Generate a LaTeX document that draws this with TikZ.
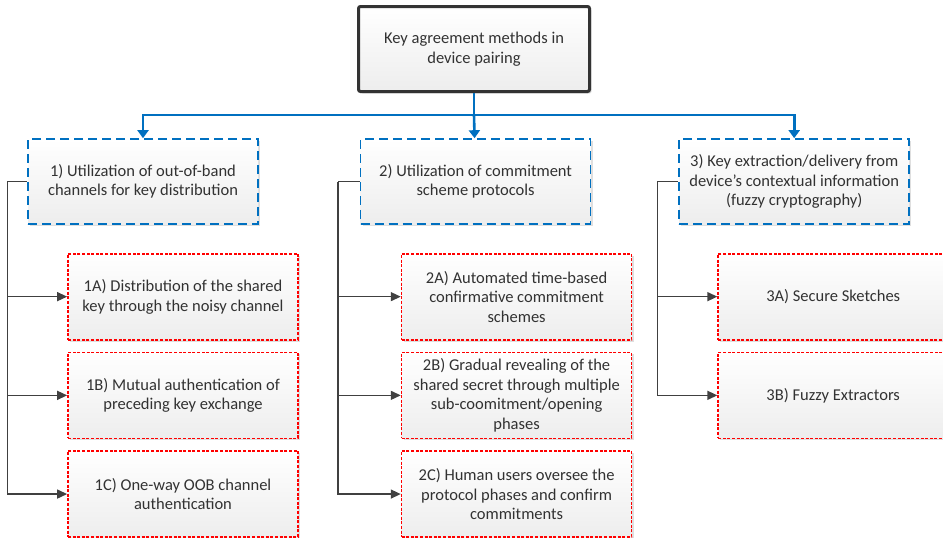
\documentclass[tikz,border=0pt]{standalone}
\usepackage{fontspec}
\setmainfont{Carlito}
\usetikzlibrary{positioning,arrows.meta,shadows}
\definecolor{linkblue}{RGB}{0,112,192}
\definecolor{wiregray}{RGB}{64,64,64}
\definecolor{textgray}{RGB}{50,50,50}
\definecolor{boxred}{RGB}{255,0,0}

\begin{document}
\begin{tikzpicture}[x=1pt, y=-1pt, node distance=11pt,
    font=\fontsize{16.5}{19.5}\selectfont, text=textgray,
    box/.style={rectangle, align=center, top color=white, bottom color=gray!14,
        drop shadow={opacity=0.25, shadow xshift=2pt, shadow yshift=-2pt}},
    rootbox/.style={box, draw=black!80, line width=3pt, rounded corners=2pt,
        minimum width=231pt, minimum height=85pt},
    method/.style={box, draw=linkblue, line width=1.6pt, dash pattern=on 9pt off 5pt,
        minimum width=230pt, minimum height=85pt},
    submethod/.style={box, draw=boxred, line width=1.7pt, dash pattern=on 3pt off 1.6pt,
        minimum width=230pt, minimum height=86pt},
    feed/.style={-{Triangle[width=11pt,length=8pt]}, draw=linkblue, line width=2.6pt},
    wire/.style={-{Triangle[width=9pt,length=10pt]}, draw=wiregray, line width=1.4pt}]

    \useasboundingbox (0,0) rectangle (943,538);

    \node[rootbox] (root) at (474,49) {Key agreement methods in\\device pairing};

    % three method families
    \node[method] (cat1) at (143,181.5) {1) Utilization of out-of-band\\channels for key distribution};
    \node[method, right=101pt of cat1] (cat2) {2) Utilization of commitment\\scheme protocols};
    \node[method, right=87pt of cat2] (cat3) {3) Key extraction/delivery from\\device’s contextual information\\(fuzzy cryptography)};

    \draw[linkblue, line width=2.6pt] (root.south) -- ++(0,22) coordinate (hub);
    \draw[feed] (hub) -| (cat1);
    \draw[feed] (hub) -- (cat2);
    \draw[feed] (hub) -| (cat3);

    % sub-methods
    \node[submethod, below=28pt of cat1, xshift=40pt] (sub1a) {1A) Distribution of the shared\\key through the noisy channel};
    \node[submethod, below=of sub1a] (sub1b) {1B) Mutual authentication of\\preceding key exchange};
    \node[submethod, below=of sub1b] (sub1c) {1C) One-way OOB channel\\authentication};

    \node[submethod, below=28pt of cat2, xshift=41pt] (sub2a) {2A) Automated time-based\\confirmative commitment\\schemes};
    \node[submethod, below=of sub2a] (sub2b) {2B) Gradual revealing of the\\shared secret through multiple\\sub-coomitment/opening\\phases};
    \node[submethod, below=of sub2b] (sub2c) {2C) Human users oversee the\\protocol phases and confirm\\commitments};

    \node[submethod, below=28pt of cat3, xshift=39pt] (sub3a) {3A) Secure Sketches};
    \node[submethod, below=of sub3a] (sub3b) {3B) Fuzzy Extractors};

    \draw[wiregray, line width=1.4pt] (cat1.west) -- ++(-20,0) coordinate (bus1);
    \draw[wiregray, line width=1.4pt] (cat2.west) -- ++(-22,0) coordinate (bus2);
    \draw[wiregray, line width=1.4pt] (cat3.west) -- ++(-21,0) coordinate (bus3);
    \foreach \n in {sub1a,sub1b,sub1c} \draw[wire] (bus1) |- (\n);
    \foreach \n in {sub2a,sub2b,sub2c} \draw[wire] (bus2) |- (\n);
    \foreach \n in {sub3a,sub3b} \draw[wire] (bus3) |- (\n);
\end{tikzpicture}
\end{document}
